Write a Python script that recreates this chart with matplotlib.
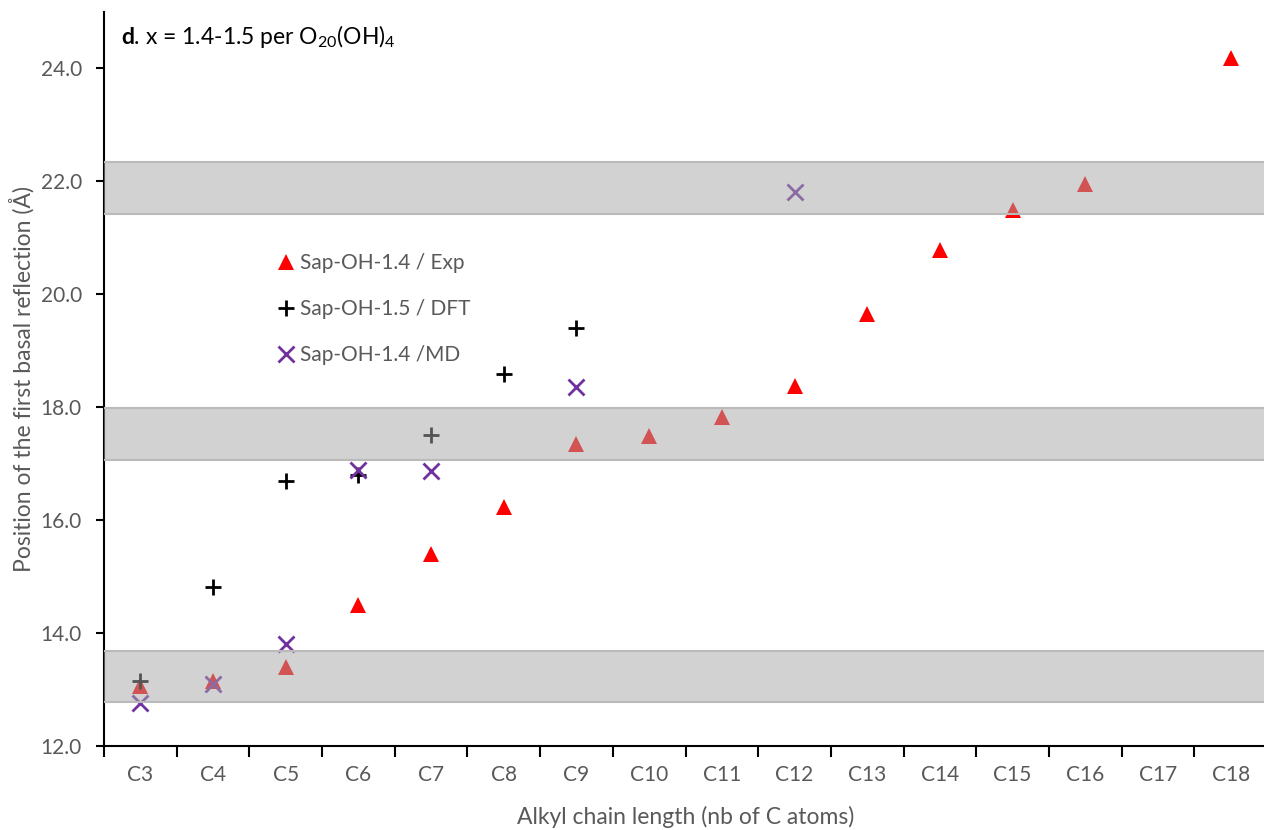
import matplotlib
matplotlib.use("Agg")
import matplotlib.pyplot as plt
import numpy as np

categories = ["C3", "C4", "C5", "C6", "C7", "C8", "C9", "C10", "C11", "C12",
              "C13", "C14", "C15", "C16", "C17", "C18"]
exp_vals = [13.06, 13.15, 13.40, 14.50, 15.40, 16.23, 17.35, 17.49, 17.82, 18.37,
            19.66, 20.78, 21.49, 21.95, None, 24.18]
dft_vals = [13.15, 14.81, 16.69, 16.80, 17.50, 18.58, 19.40, None, None, None,
            None, None, None, None, None, None]
md_vals = [12.76, 13.10, 13.81, 16.88, 16.87, None, 18.35, None, None, 21.81,
           None, None, None, None, None, None]
bands = [(12.78, 13.68), (17.06, 17.98), (21.42, 22.34)]
labels = ["Sap-OH-1.4 / Exp", "Sap-OH-1.5 / DFT", "Sap-OH-1.4 /MD"]

plt.rcParams['font.family'] = ['Lato', 'DejaVu Sans']
plt.rcParams['mathtext.fontset'] = 'custom'
plt.rcParams['mathtext.rm'] = 'Lato'
plt.rcParams['mathtext.it'] = 'Lato:italic'
plt.rcParams['mathtext.bf'] = 'Lato:bold'

gray = '#595959'
fs = 15
fs_lab = 16.5

fig = plt.figure(figsize=(12.64, 8.30), dpi=100)
ax = fig.add_axes([104/1264, 1 - 746/830, (1267-104)/1264, (746-12)/830])

x = np.arange(len(categories))

def pts(vals):
    xs = [xi for xi, v in zip(x, vals) if v is not None]
    ys = [v for v in vals if v is not None]
    return xs, ys

xs, ys = pts(exp_vals)
h1, = ax.plot(xs, ys, linestyle='none', marker='^', color='#FF0000', markersize=11,
              markeredgewidth=0, zorder=3, label=labels[0])
xs, ys = pts(dft_vals)
h2, = ax.plot(xs, ys, linestyle='none', marker='+', color='black', markersize=12,
              markeredgewidth=2, zorder=4, label=labels[1])
xs, ys = pts(md_vals)
h3, = ax.plot(xs, ys, linestyle='none', marker='x', color='#7030A0', markersize=11,
              markeredgewidth=2, zorder=5, label=labels[2])

for lo, hi in bands:
    ax.axhspan(lo, hi, facecolor='#a6a6a6', alpha=0.5, edgecolor='none', zorder=6)
    ax.axhline(lo, color='#bababa', lw=1.5, zorder=6)
    ax.axhline(hi, color='#bababa', lw=1.5, zorder=6)

ax.set_xlim(-0.5, len(categories) - 0.5)
ax.set_ylim(12, 25)
ax.set_yticks(np.arange(12, 25, 2))
ax.set_yticklabels([f"{v:.1f}" for v in np.arange(12, 25, 2)])
ax.set_xticks(x)
ax.set_xticklabels(categories)
ax.set_xticks(np.arange(-0.5, len(categories), 1), minor=True)
ax.tick_params(axis='x', which='major', length=0, pad=14, labelsize=fs, labelcolor=gray)
ax.tick_params(axis='x', which='minor', length=8, width=1.5, color='black', direction='out')
ax.tick_params(axis='y', which='major', length=6, width=1.5, color='black', direction='out',
               labelsize=fs, labelcolor=gray, pad=10)

for s in ['top', 'right']:
    ax.spines[s].set_visible(False)
for s in ['left', 'bottom']:
    ax.spines[s].set_linewidth(1.5)
    ax.spines[s].set_color('black')

ax.set_xlabel("Alkyl chain length (nb of C atoms)", fontsize=fs_lab, color=gray, labelpad=15)
ax.set_ylabel("Position of the first basal reflection (Å)", fontsize=fs_lab, color=gray, labelpad=4)

fig.text(121/1264, 1 - 36/830, r"$\mathbf{d}$. x = 1.4-1.5 per O$_{20}$(OH)$_4$",
         fontsize=fs_lab, color='black', va='center', ha='left')

leg = ax.legend(handles=[h1, h2, h3], loc='upper left',
                bbox_to_anchor=((278-104)/1163, (746-253)/734),
                frameon=False, fontsize=fs, labelspacing=1.25, handlelength=0.8,
                handletextpad=0.25, borderpad=0, borderaxespad=0)
for t in leg.get_texts():
    t.set_color(gray)

fig.savefig("out.png", dpi=100)
